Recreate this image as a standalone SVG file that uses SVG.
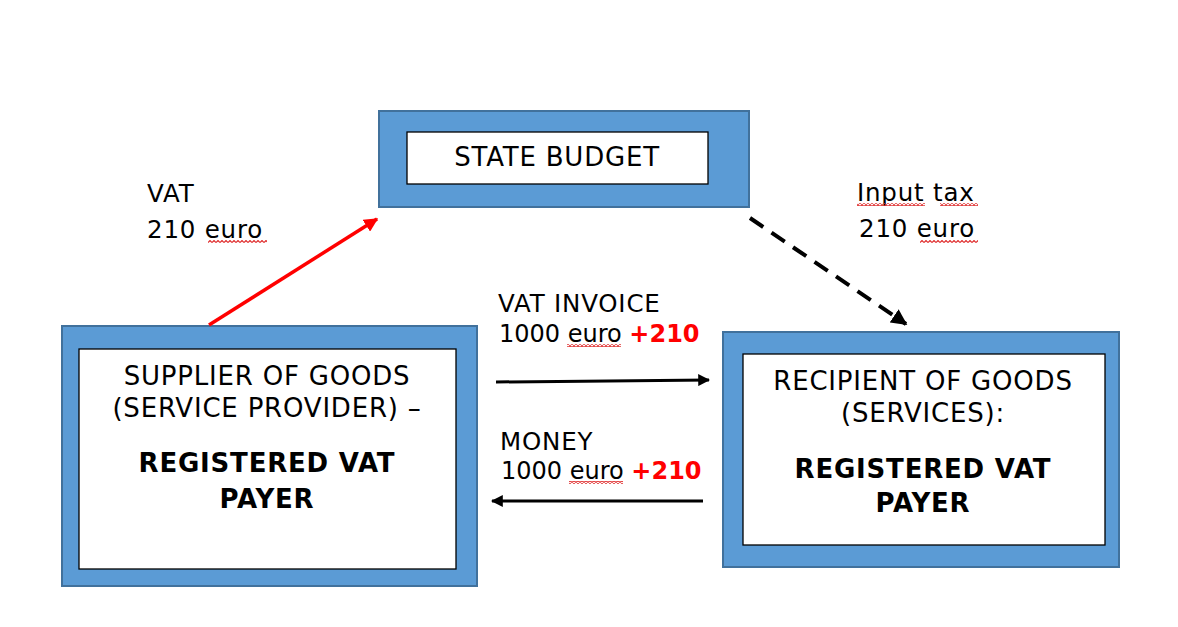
<svg xmlns="http://www.w3.org/2000/svg" width="1178" height="627" viewBox="0 0 1178 627">
<defs>
<style>
.outer{fill:#5B9BD5;stroke:#41719C;stroke-width:2}
.inner{fill:#fff;stroke:#000;stroke-width:1.3}
.t{font-family:"DejaVu Sans","Verdana",sans-serif;font-size:26px;letter-spacing:0.8px;fill:#000}
.l{font-size:24.5px}
.n{font-size:24px;letter-spacing:0}
.c{text-anchor:middle}
.b{font-weight:bold}
.red{fill:#FF0000;font-weight:bold}
</style>
<marker id="ah" viewBox="0 0 10 10" refX="9" refY="5" markerWidth="4" markerHeight="4" orient="auto" markerUnits="strokeWidth">
<path d="M0,0 L10,5 L0,10 z" fill="#000"/>
</marker>
<marker id="ahr" viewBox="0 0 10 10" refX="9" refY="5" markerWidth="4" markerHeight="4" orient="auto" markerUnits="strokeWidth">
<path d="M0,0 L10,5 L0,10 z" fill="#FF0000"/>
</marker>
<pattern id="wave" x="0" y="0" width="4" height="3" patternUnits="userSpaceOnUse">
<path d="M0,2.5 L2,0.5 L4,2.5" fill="none" stroke="#E03030" stroke-width="1.2"/>
</pattern>
</defs>
<rect width="1178" height="627" fill="#fff"/>

<g id="state-budget">
<rect class="outer" x="379" y="111" width="370" height="96"/>
<rect class="inner" x="407" y="132" width="301" height="52"/>
<text class="t c" x="557" y="166">STATE BUDGET</text>
</g>

<g id="supplier">
<rect class="outer" x="62" y="326" width="415" height="260"/>
<rect class="inner" x="79" y="349" width="377" height="220"/>
<text class="t c" x="267" y="385">SUPPLIER OF GOODS</text>
<text class="t c" x="267" y="417">(SERVICE PROVIDER) –</text>
<text class="t c b" x="267" y="472">REGISTERED VAT</text>
<text class="t c b" x="267" y="508">PAYER</text>
</g>

<g id="recipient">
<rect class="outer" x="723" y="332" width="396" height="235"/>
<rect class="inner" x="743" y="354" width="362" height="191"/>
<text class="t c" x="923" y="390">RECIPIENT OF GOODS</text>
<text class="t c" x="923" y="422">(SERVICES):</text>
<text class="t c b" x="923" y="478">REGISTERED VAT</text>
<text class="t c b" x="923" y="512">PAYER</text>
</g>

<g id="connectors">
<line x1="209" y1="325" x2="377" y2="219" stroke="#FF0000" stroke-width="3.5" marker-end="url(#ahr)"/>
<line x1="750" y1="218" x2="906" y2="324" stroke="#000" stroke-width="4" stroke-dasharray="16,10" marker-end="url(#ah)"/>
<line x1="496" y1="382" x2="709" y2="380" stroke="#000" stroke-width="3" marker-end="url(#ah)"/>
<line x1="703" y1="501" x2="492" y2="501" stroke="#000" stroke-width="3" marker-end="url(#ah)"/>
</g>

<g id="labels">
<text class="t l" x="147" y="202">VAT</text>
<text class="t l" x="147" y="238">210 euro</text>
<text class="t l" x="857" y="201">Input tax</text>
<text class="t l" x="859" y="237">210 euro</text>
<text class="t l" x="498" y="312">VAT INVOICE</text>
<text class="t n" x="499" y="342">1000 euro <tspan class="red">+210</tspan></text>
<text class="t l" x="500" y="450">MONEY</text>
<text class="t n" x="501" y="479">1000 euro <tspan class="red">+210</tspan></text>
</g>

<g id="spellcheck-marks">
<rect x="208" y="240" width="59" height="3" fill="url(#wave)"/>
<rect x="857" y="203" width="68" height="3" fill="url(#wave)"/>
<rect x="940" y="203" width="38" height="3" fill="url(#wave)"/>
<rect x="920" y="240" width="58" height="3" fill="url(#wave)"/>
<rect x="567" y="344" width="54" height="3" fill="url(#wave)"/>
<rect x="569" y="481" width="54" height="3" fill="url(#wave)"/>
</g>
</svg>
